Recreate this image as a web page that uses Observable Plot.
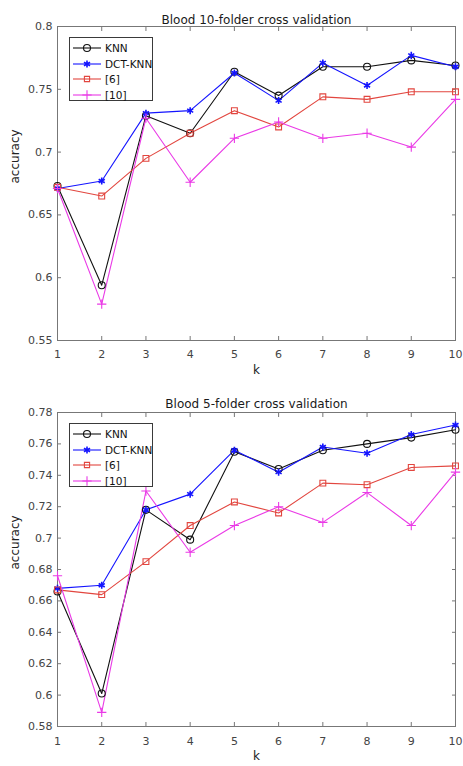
<!DOCTYPE html>
<html>
<head>
<meta charset="utf-8">
<script src="https://cdn.jsdelivr.net/npm/d3@7"></script>
<script src="https://cdn.jsdelivr.net/npm/@observablehq/plot@0.6"></script>
<style>
  body { margin: 0; background: #fff; font-family: "DejaVu Sans", sans-serif; }
  .panel { position: relative; width: 463px; }
  .legend { position: absolute; left: 69px; width: 84px; height: 64px; border: 1px solid #3a3a3a; background: #fff; box-sizing: border-box; }
  .legend .row { position: absolute; left: 0; height: 14px; display: flex; align-items: center; }
  .legend .row svg { display: block; margin-left: 2px; }
  .legend .row span { font-size: 10.5px; color: #111; margin-left: 3px; white-space: nowrap; line-height: 14px; }
</style>
</head>
<body>
<div id="root"></div>
<script>
// ---- data ----
const k = [1, 2, 3, 4, 5, 6, 7, 8, 9, 10];
const series = ["KNN", "DCT-KNN", "[6]", "[10]"];
const colors = ["#111111", "#1414ff", "#e2463f", "#ea3ae6"];
const symbols = ["circle", "asterisk", "square", "plus"];
const symbolR = [3.5, 3.3, 3.3, 3.1];
const symbolW = [1.1, 1.6, 1.1, 1.1];

// Blood 10-folder cross validation
const knn10 = [0.673, 0.594, 0.729, 0.715, 0.764, 0.745, 0.768, 0.768, 0.773, 0.769];
const dct10 = [0.671, 0.677, 0.731, 0.733, 0.763, 0.741, 0.771, 0.753, 0.777, 0.768];
const ref6_10 = [0.672, 0.665, 0.695, 0.715, 0.733, 0.720, 0.744, 0.742, 0.748, 0.748];
const ref10_10 = [0.671, 0.579, 0.727, 0.676, 0.711, 0.724, 0.711, 0.715, 0.704, 0.742];
const yTicks10 = [0.55, 0.6, 0.65, 0.7, 0.75, 0.8];

// Blood 5-folder cross validation
const knn5 = [0.666, 0.601, 0.718, 0.699, 0.755, 0.744, 0.756, 0.760, 0.764, 0.769];
const dct5 = [0.668, 0.670, 0.718, 0.728, 0.756, 0.742, 0.758, 0.754, 0.766, 0.772];
const ref6_5 = [0.667, 0.664, 0.685, 0.708, 0.723, 0.716, 0.735, 0.734, 0.745, 0.746];
const ref10_5 = [0.676, 0.589, 0.730, 0.691, 0.708, 0.720, 0.710, 0.729, 0.708, 0.742];
const yTicks5 = [0.58, 0.6, 0.62, 0.64, 0.66, 0.68, 0.7, 0.72, 0.74, 0.76, 0.78];

const titles = ["Blood 10-folder cross validation", "Blood 5-folder cross validation"];

function toTable(arrs) {
  const rows = [];
  arrs.forEach((vals, si) => vals.forEach((v, i) => rows.push({k: k[i], v, s: series[si]})));
  return rows;
}

const fmt = d => String(+d.toFixed(2));
const gray = "#777";

function makePanel({title, data, yTicks, height, marginTop, marginBottom, titleDy, xPad, kDy, legendTop}) {
  const table = toTable(data);
  const dots = series.map((name, i) =>
    Plot.dot(table.filter(d => d.s === name), {
      x: "k", y: "v", stroke: colors[i], symbol: symbols[i], r: symbolR[i], strokeWidth: symbolW[i], fill: "none"
    })
  );
  const plot = Plot.plot({
    width: 463,
    height,
    marginLeft: 57,
    marginRight: 8,
    marginTop,
    marginBottom,
    style: {fontFamily: "DejaVu Sans, sans-serif", fontSize: "11px", color: "#444", background: "white"},
    x: {domain: [1, 10], label: null},
    y: {domain: [yTicks[0], yTicks[yTicks.length - 1]], label: null},
    color: {domain: series, range: colors},
    marks: [
      Plot.frame({stroke: gray}),
      Plot.axisX({anchor: "bottom", ticks: k, tickSize: -4, tickPadding: xPad, tickFormat: d => String(d), stroke: gray, fill: "#444"}),
      Plot.axisX({anchor: "top", ticks: k, tickSize: -4, tickFormat: () => "", stroke: gray}),
      Plot.axisY({anchor: "left", ticks: yTicks, tickSize: -4, tickPadding: 9, tickFormat: fmt, stroke: gray, fill: "#444"}),
      Plot.axisY({anchor: "right", ticks: yTicks, tickSize: -4, tickFormat: () => "", stroke: gray}),
      Plot.line(table, {x: "k", y: "v", z: "s", stroke: "s", strokeWidth: 1.1}),
      ...dots,
      Plot.text([title], {frameAnchor: "top", dy: titleDy, fontSize: 12, fill: "#1a1a1a"}),
      Plot.text(["k"], {frameAnchor: "bottom", dy: kDy, fontSize: 12, fill: "#222"}),
      Plot.text(["accuracy"], {frameAnchor: "left", dx: -42, rotate: -90, fontSize: 12, fill: "#222"})
    ]
  });
  const panel = document.createElement("div");
  panel.className = "panel";
  panel.style.height = height + "px";
  panel.appendChild(plot);

  // legend overlay
  const leg = document.createElement("div");
  leg.className = "legend";
  leg.style.top = legendTop + "px";
  series.forEach((name, i) => {
    const row = document.createElement("div");
    row.className = "row";
    row.style.top = (3 + i * 15.6) + "px";
    const svg = d3.create("svg").attr("width", 30).attr("height", 14);
    svg.append("line").attr("x1", 1).attr("x2", 29).attr("y1", 7).attr("y2", 7)
      .attr("stroke", colors[i]).attr("stroke-width", 1.1);
    const sym = {circle: d3.symbolCircle, asterisk: d3.symbolAsterisk, square: d3.symbolSquare2, plus: d3.symbolPlus}[symbols[i]];
    svg.append("path").attr("transform", "translate(15,7)")
      .attr("d", d3.symbol(sym, Math.PI * symbolR[i] * symbolR[i])())
      .attr("fill", "none").attr("stroke", colors[i]).attr("stroke-width", symbolW[i]);
    row.appendChild(svg.node());
    const span = document.createElement("span");
    span.textContent = name;
    row.appendChild(span);
    leg.appendChild(row);
  });
  panel.appendChild(leg);
  return panel;
}

const root = document.getElementById("root");
root.appendChild(makePanel({
  title: titles[0], data: [knn10, dct10, ref6_10, ref10_10], yTicks: yTicks10,
  height: 380, marginTop: 26, marginBottom: 40, titleDy: -11, xPad: 14, kDy: 33, legendTop: 37
}));
root.appendChild(makePanel({
  title: titles[1], data: [knn5, dct5, ref6_5, ref10_5], yTicks: yTicks5,
  height: 386, marginTop: 32, marginBottom: 40, titleDy: -13, xPad: 15, kDy: 33, legendTop: 43
}));
</script>
</body>
</html>
